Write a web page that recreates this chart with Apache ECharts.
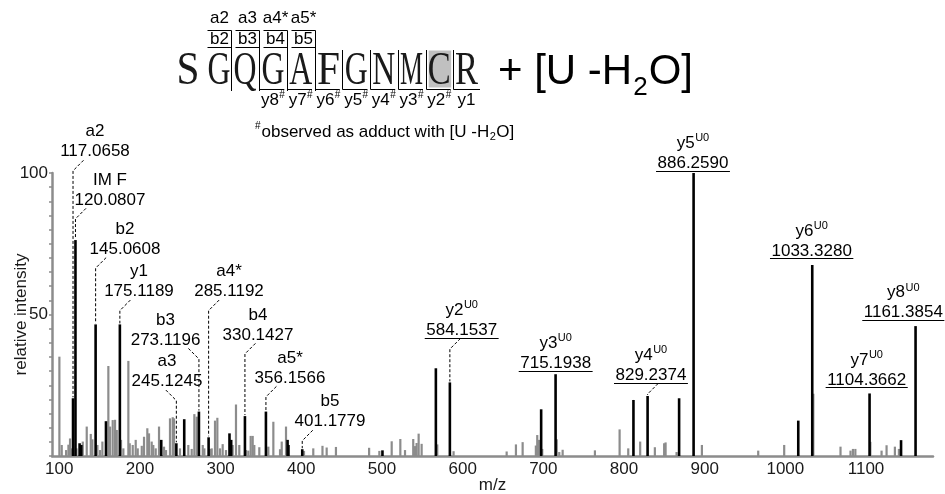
<!DOCTYPE html>
<html>
<head>
<meta charset="utf-8">
<title>MS/MS spectrum of SGQGAFGNMCR + [U -H2O]</title>
<script src="https://cdn.jsdelivr.net/npm/echarts@6.0.0/dist/echarts.min.js"></script>
<style>
  html, body { margin: 0; padding: 0; background: #fff; }
  #chart { width: 945px; height: 494px; }
</style>
</head>
<body>
<div id="chart"></div>
<script>
// ---------------- spectrum data ----------------
// labelled fragment ions
const ionNames = ['a2', 'IM F', 'b2', 'y1', 'b3', 'a3', 'a4*', 'b4', 'a5*', 'b5',
                  'y2', 'y3', 'y4', 'y5', 'y6', 'y7', 'y8'];
const ionMz = ['117.0658', '120.0807', '145.0608', '175.1189', '273.1196', '245.1245',
               '285.1192', '330.1427', '356.1566', '401.1779', '584.1537', '715.1938',
               '829.2374', '886.2590', '1033.3280', '1104.3662', '1161.3854'];
const ionIntensity = [20.4, 76.3, 46.5, 46.5, 15.7, 4.5, 6.6, 14.1, 15.7, 2.4,
                      26.0, 28.9, 21.2, 100, 67.5, 22.1, 45.9];
// y ions carrying the nucleotide adduct (U0 superscript, underlined value)
const ionAdduct = [false, false, false, false, false, false, false, false, false, false,
                   true, true, true, true, true, true, true];

// further matched peaks without a label: [m/z, relative intensity]
const otherMatchedPeaks = [
  [125.2, 4.5], [127.3, 3.9], [157.9, 12.3], [226.4, 5.7], [254.9, 13.0],
  [311.0, 8.0], [313.1, 5.7], [383.0, 5.7], [384.1, 3.9], [500.6, 2.0],
  [566.8, 31.0], [697.3, 16.5], [811.7, 19.8], [868.3, 20.4], [1016.0, 12.5],
  [1143.4, 5.6]
];

// unassigned peaks: [m/z, relative intensity]
const unassignedPeaks = [
  [100.4, 35.1], [103.3, 3.9], [108.7, 2.1], [111.6, 4.0], [113.6, 6.2], [115.7, 2.7],
  [121.6, 2.7], [129.4, 5.1], [134.3, 10.4], [139.3, 7.8], [141.3, 5.9], [147.5, 3.9],
  [150.8, 2.1], [153.7, 5.1], [161.1, 31.8], [163.2, 10.4], [166.5, 12.7], [169.4, 12.8],
  [171.5, 9.2], [176.8, 5.7], [179.7, 2.7], [185.9, 33.6], [187.6, 4.5], [191.3, 3.9],
  [195.0, 5.7], [197.5, 2.7], [202.5, 3.6], [205.3, 6.8], [209.4, 9.8], [211.5, 8.0],
  [214.8, 5.1], [216.8, 3.9], [219.8, 2.7], [223.9, 10.4], [230.1, 3.3], [232.6, 2.1],
  [237.5, 13.3], [240.9, 13.7], [242.5, 13.3], [249.9, 2.7], [260.2, 3.9], [264.4, 2.5],
  [267.7, 14.8], [270.6, 13.9], [278.1, 3.9], [280.1, 2.7], [287.0, 2.5], [289.2, 2.7],
  [293.3, 12.5], [296.2, 13.5], [299.5, 2.7], [302.8, 4.2], [306.9, 2.1], [315.2, 3.9],
  [319.3, 18.2], [323.4, 3.9], [331.7, 2.1], [334.6, 1.9], [337.5, 7.1], [340.0, 7.1],
  [342.0, 3.9], [348.2, 3.1], [359.4, 3.3], [365.6, 12.1], [373.9, 2.4], [376.0, 5.1],
  [381.3, 10.4], [403.6, 1.8], [415.1, 2.7], [426.5, 3.6], [431.7, 3.0], [443.2, 3.2],
  [484.3, 2.9], [497.0, 1.8], [512.3, 5.2], [523.0, 6.0], [528.8, 2.1], [539.0, 6.0],
  [541.1, 3.5], [543.2, 4.6], [545.7, 7.9], [549.4, 4.3], [568.8, 4.1], [589.0, 1.7],
  [654.8, 1.6], [666.3, 4.1], [674.6, 4.9], [691.0, 3.7], [692.7, 7.4], [694.8, 5.7],
  [698.9, 2.5], [716.9, 5.9], [720.0, 1.4], [724.2, 2.2], [764.2, 2.0], [794.8, 9.4],
  [805.5, 2.7], [820.3, 5.1], [838.5, 3.1], [850.0, 4.5], [851.8, 4.8], [865.4, 1.4],
  [896.8, 3.9], [966.6, 1.9], [998.8, 3.9], [1034.9, 22.0], [1068.6, 3.3], [1081.0, 1.9],
  [1084.0, 2.5], [1087.0, 2.5], [1105.6, 5.0], [1119.5, 1.9], [1125.7, 3.8], [1136.0, 3.3],
  [1141.0, 2.5]
];

// m/z tick labels
const mzTicks = [100, 200, 300, 400, 500, 600, 700, 800, 900, 1000, 1100];

// ---------------- peptide header ----------------
const sequence = ['S', 'G', 'Q', 'G', 'A', 'F', 'G', 'N', 'M', 'C', 'R'];
const aIonLabels = ['a2', 'a3', 'a4*', 'a5*'];
const bIonLabels = ['b2', 'b3', 'b4', 'b5'];
const yIonLabels = ['y8', 'y7', 'y6', 'y5', 'y4', 'y3', 'y2', 'y1'];
const yIonMarks = ['#', '#', '#', '#', '#', '#', '#', ''];

// ---------------- layout ----------------
const SANS = '"Liberation Sans", Arial, Helvetica, sans-serif';
const SERIF = '"Liberation Serif", "Times New Roman", serif';
const LABEL_SIZE = 17;

// anchor of each ion label (centre of its value line) in axis units [m/z, intensity]
const ionLabelAt = [
  [144.3, 107.5], [162.9, 90.5], [181.5, 73.1], [198.8, 58.1], [231.7, 41.0],
  [233.5, 26.3], [310.4, 58.1], [346.3, 42.8], [386.0, 27.6], [435.6, 12.1],
  [598.8, 44.5], [715.3, 32.8], [833.4, 28.6], [885.5, 103.5], [1032.6, 72.5],
  [1100.8, 26.9], [1146.2, 50.6]
];
const ionHasLeader = [true, true, true, true, true, true, true, true, true, true,
                      true, false, true, false, false, false, false];

// x positions of the residue separators in the header
const seqBounds = [231, 259, 286.8, 314.5, 342.3, 370, 397.7, 425.5, 453.2, 480];
const seqFirstX = 188;
const BOX_W = 24;

const measureCtx = document.createElement('canvas').getContext('2d');
function textWidth(s, size, family) {
  measureCtx.font = size + 'px ' + family;
  return measureCtx.measureText(s).width;
}

function textEl(text, x, y, size, align, family, fill, extra) {
  const el = {
    type: 'text', x: x, y: y, silent: true,
    style: {
      text: text, fontSize: size, fontFamily: family || SANS, fill: fill || '#000',
      align: align || 'center', textAlign: align || 'center',
      verticalAlign: 'middle', textVerticalAlign: 'middle'
    }
  };
  return Object.assign(el, extra || {});
}

function lineEl(x1, y1, x2, y2) {
  return {
    type: 'line', silent: true,
    shape: { x1: x1, y1: y1, x2: x2, y2: y2 },
    style: { stroke: '#000', lineWidth: 1 }
  };
}

// main text followed by a small raised mark, centred on cx as a whole
function nameWithSup(main, sup, cx, cy, size, supSize) {
  const wm = textWidth(main, size, SANS);
  const ws = sup ? textWidth(sup, supSize, SANS) + 0.5 : 0;
  const left = cx - (wm + ws) / 2;
  const out = [textEl(main, left, cy, size, 'left')];
  if (sup) out.push(textEl(sup, left + wm + 0.5, cy - size * 0.3, supSize, 'left'));
  return out;
}

// ---------------- header graphics ----------------
function buildHeader() {
  const els = [];
  // shaded modified residue (C)
  els.push({
    type: 'rect', silent: true, z: 0,
    shape: { x: seqBounds[8] - 24.5, y: 50.5, width: 22.5, height: 37 },
    style: { fill: '#c0c0c0' }
  });
  // residues
  sequence.forEach(function (ch, i) {
    let cx;
    if (i === 0) cx = seqFirstX;
    else if (i === 1) cx = seqBounds[0] - 12;
    else cx = (seqBounds[i - 2] + seqBounds[i - 1]) / 2;
    const w = textWidth(ch, 47, SERIF);
    const sx = Math.min(1, 23 / w);
    els.push(textEl(ch, cx, 72, 47, 'center', SERIF, '#1a1a1a', { scaleX: sx, z: 1 }));
  });
  // b ion boxes with a ion labels above
  bIonLabels.forEach(function (b, k) {
    const r = Math.round(seqBounds[k]) + 0.5, l = r - BOX_W;
    els.push(lineEl(l, 30.5, r, 30.5));
    els.push(lineEl(l, 47.5, r, 47.5));
    els.push(lineEl(r, 30.5, r, 91));
    els.push(textEl(b, r - BOX_W / 2, 39.5, LABEL_SIZE));
    els.push(textEl(aIonLabels[k], r - BOX_W / 2, 18.5, LABEL_SIZE));
  });
  // y ion brackets with labels below
  yIonLabels.forEach(function (y, k) {
    const l = Math.round(seqBounds[k + 1]) + 0.5;
    const r = k + 2 < seqBounds.length - 1 ? seqBounds[k + 2] - 2.5 : seqBounds[k + 2];
    els.push(lineEl(l, 50, l, 89.5));
    els.push(lineEl(l, 89.5, r, 89.5));
    const cx = (seqBounds[k + 1] + seqBounds[k + 2]) / 2;
    nameWithSup(y, yIonMarks[k], cx, 100.5, LABEL_SIZE, 10).forEach(function (e) { els.push(e); });
  });
  // "+ [U -H2O]"
  const big = 42, x0 = 498;
  const p1 = '+ [U -H';
  els.push(textEl(p1, x0, 72, big, 'left'));
  const w1 = textWidth(p1, big, SANS);
  els.push(textEl('2', x0 + w1 + 1, 87.5, 26, 'left'));
  const w2 = textWidth('2', 26, SANS);
  els.push(textEl('O]', x0 + w1 + w2 + 2, 72, big, 'left'));
  // footnote
  const n0 = 255;
  els.push(textEl('#', n0, 126, 10, 'left'));
  const f1 = 'observed as adduct with [U -H';
  els.push(textEl(f1, n0 + 6.5, 132, LABEL_SIZE, 'left'));
  const fw = textWidth(f1, LABEL_SIZE, SANS);
  els.push(textEl('2', n0 + 6.5 + fw + 0.5, 137, 11, 'left'));
  const fw2 = textWidth('2', 11, SANS);
  els.push(textEl('O]', n0 + 6.5 + fw + fw2 + 1, 132, LABEL_SIZE, 'left'));
  return els;
}

// ---------------- ion label renderer ----------------
function renderIonLabel(params, api) {
  const i = api.value(4);
  const peak = api.coord([api.value(0), api.value(1)]);
  const at = api.coord([api.value(2), api.value(3)]);
  const cx = at[0], cy = at[1];
  const children = [];
  children.push(textEl(ionMz[i], cx, cy, LABEL_SIZE));
  nameWithSup(ionNames[i], ionAdduct[i] ? 'U0' : '', cx, cy - 20, LABEL_SIZE, 11)
    .forEach(function (e) { children.push(e); });
  if (ionAdduct[i]) {
    const w = textWidth(ionMz[i], LABEL_SIZE, SANS);
    const uy = Math.round(cy + 7.5) + 0.5;
    children.push({
      type: 'line', silent: true,
      shape: { x1: cx - w / 2 - 1.5, y1: uy, x2: cx + w / 2 + 1.5, y2: uy },
      style: { stroke: '#000', lineWidth: 1.2 }
    });
  }
  if (ionHasLeader[i]) {
    const dir = cx >= peak[0] ? 1 : -1;
    children.push({
      type: 'polyline', silent: true,
      shape: { points: [[peak[0] + dir * 10.5, cy + 8.5], [peak[0], cy + 19], [peak[0], peak[1] - 1]] },
      style: { stroke: '#000', lineWidth: 1, lineDash: [3, 2], fill: null }
    });
  }
  return { type: 'group', children: children };
}

// ---------------- chart ----------------
const matchedSeries = ionMz.map(function (m, i) { return [Number(m), ionIntensity[i]]; })
  .concat(otherMatchedPeaks);
const labelData = ionMz.map(function (m, i) {
  return [Number(m), ionIntensity[i], ionLabelAt[i][0], ionLabelAt[i][1], i];
});

const AXIS_GREY = '#8c8c8c';
const chart = echarts.init(document.getElementById('chart'), null, { renderer: 'canvas' });
chart.setOption({
  animation: false,
  backgroundColor: '#fff',
  textStyle: { fontFamily: SANS },
  grid: { left: 52, right: 12, top: 173, bottom: 38, containLabel: false, outerBoundsMode: 'none' },
  xAxis: {
    type: 'value', min: 91, max: 1183,
    name: 'm/z', nameLocation: 'middle', nameGap: 21, nameMoveOverlap: false,
    nameTextStyle: { fontSize: LABEL_SIZE, color: '#1a1a1a', fontFamily: SANS },
    axisLine: { show: true, lineStyle: { color: AXIS_GREY, width: 2.5 } },
    axisTick: { show: false },
    splitLine: { show: false },
    axisLabel: {
      customValues: mzTicks, fontSize: LABEL_SIZE, color: '#1a1a1a', margin: 5,
      fontFamily: SANS, hideOverlap: false,
      formatter: function (v) { return String(v); }
    }
  },
  yAxis: {
    type: 'value', min: 0, max: 100, interval: 50,
    name: 'relative intensity', nameLocation: 'middle', nameGap: 22, nameRotate: 90,
    nameMoveOverlap: false,
    nameTextStyle: { fontSize: LABEL_SIZE, color: '#1a1a1a', fontFamily: SANS },
    axisLine: { show: true, lineStyle: { color: AXIS_GREY, width: 2.5 } },
    axisTick: { show: true, length: 3, lineStyle: { color: AXIS_GREY, width: 1.5 } },
    minorTick: { show: true, splitNumber: 10, length: 3, lineStyle: { color: AXIS_GREY, width: 1.5 } },
    splitLine: { show: false },
    axisLabel: {
      fontSize: LABEL_SIZE, color: '#1a1a1a', margin: 4, fontFamily: SANS,
      formatter: function (v) { return v === 0 ? '' : String(v); }
    }
  },
  graphic: { elements: buildHeader() },
  series: [
    {
      name: 'unassigned', type: 'bar', data: unassignedPeaks, barWidth: 2.2, barGap: '-100%',
      itemStyle: { color: '#8c8c8c' }, silent: true, z: 2
    },
    {
      name: 'matched', type: 'bar', data: matchedSeries, barWidth: 2.6, barGap: '-100%',
      itemStyle: { color: '#000' }, silent: true, z: 3
    },
    {
      name: 'labels', type: 'custom', renderItem: renderIonLabel, data: labelData,
      encode: { x: 0, y: 1 }, clip: false, silent: true, z: 4
    }
  ]
});
</script>
</body>
</html>
